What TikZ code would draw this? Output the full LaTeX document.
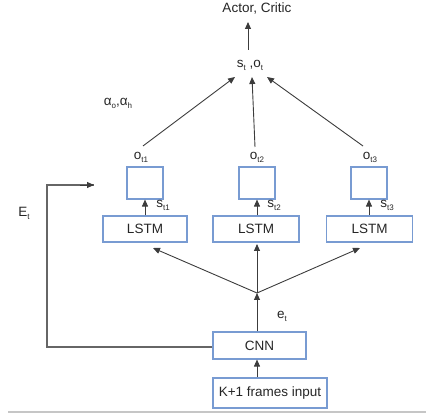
\documentclass[tikz,border=0pt]{standalone}
\usepackage{fontspec}
\setmainfont{Liberation Sans}
\usetikzlibrary{arrows.meta}
\definecolor{boxblue}{RGB}{120,155,210}
\definecolor{linegray}{RGB}{60,60,60}
\newcommand{\sbs}[1]{\raisebox{-3pt}{\fontsize{8}{8}\selectfont #1}}
\tikzset{
  every node/.style={font=\fontsize{13.5}{15}\selectfont, text=black!85},
  blk/.style={draw=boxblue, line width=1.1pt, inner sep=0pt, fill=white},
  lbl/.style={inner sep=1pt},
  arr/.style={draw=linegray, line width=0.9pt, -{Triangle[length=7pt,width=6pt]}},
  ln/.style={draw=gray!80!black, line width=1.2pt}
}
\begin{document}
\begin{tikzpicture}[x=1pt,y=-1pt]
\useasboundingbox (0,0) rectangle (426,419);

% output boxes and LSTM layer
\node[blk, minimum width=36, minimum height=32] (b1) at (145,183) {};
\node[blk, minimum width=36, minimum height=32] (b2) at (257,183) {};
\node[blk, minimum width=36, minimum height=32] (b3) at (369,183) {};
\node[blk, minimum width=84, minimum height=26] (l1) at (145,229) {LSTM};
\node[blk, minimum width=86, minimum height=26] (l2) at (256,229) {LSTM};
\node[blk, minimum width=86, minimum height=26] (l3) at (369.5,229) {LSTM};

% encoder and input
\node[blk, minimum width=93, minimum height=27] (cnn) at (259.5,345.5) {CNN};
\node[blk, minimum width=114, minimum height=30] (inp) at (270,393) {K+1 frames input};

% labels
\node[lbl] (ac) at (257,8) {Actor, Critic};
\node[lbl] (st) at (250,65) {s\sbs{t} ,o\sbs{t}};
\node[lbl] (al) at (118,103) {α\sbs{o},α\sbs{h}};
\node[lbl] (o1) at (141,157) {o\sbs{t1}};
\node[lbl] (o2) at (257,157) {o\sbs{t2}};
\node[lbl] (o3) at (370,157) {o\sbs{t3}};
\node[lbl] (s1) at (163,205) {s\sbs{t1}};
\node[lbl] (s2) at (274,205) {s\sbs{t2}};
\node[lbl] (s3) at (387,205) {s\sbs{t3}};
\node[lbl] (et) at (282,316) {e\sbs{t}};
\node[lbl] (Et) at (24,213) {E\sbs{t}};

% connection points
\coordinate (j) at (257,293);
\coordinate (acb) at (248,50);
\coordinate (act) at (248,22);
\coordinate (t1) at (235,77);
\coordinate (t2) at (252,77);
\coordinate (t3) at (267,77);
\coordinate (f1) at (143,146);
\coordinate (f2) at (255,147);
\coordinate (f3) at (363,146);
\coordinate (p1) at (153,248);
\coordinate (p2) at (257,244);
\coordinate (p3) at (360,248);
\coordinate (fbA) at (47,347);
\coordinate (fbB) at (47,185);
\coordinate (fbC) at (94,185);

% arrows
\draw[arr] (acb) -- (act);
\draw[arr] (f1) -- (t1);
\draw[arr] (f2) -- (t2);
\draw[arr] (f3) -- (t3);
\draw[arr] (l1.north) -- (b1.south);
\draw[arr] (l2.north -| b2) -- (b2.south);
\draw[arr] (l3.north -| b3) -- (b3.south);
\draw[arr] (j) -- (p1);
\draw[arr] (j) -- (p2);
\draw[arr] (j) -- (p3);
\draw[arr] (cnn.north -| j) -- (j);
\draw[arr] (inp.north -| j) -- (cnn.south -| j);

% feedback of the encoding
\draw[ln] (cnn.west |- fbA) -- (fbA) -- (fbB) -- (fbC);
\draw[arr] (80,185) -- (fbC);

% bottom rule
\draw[draw=gray!45, line width=1.5pt] (8,412) -- (426,412);
\end{tikzpicture}
\end{document}
